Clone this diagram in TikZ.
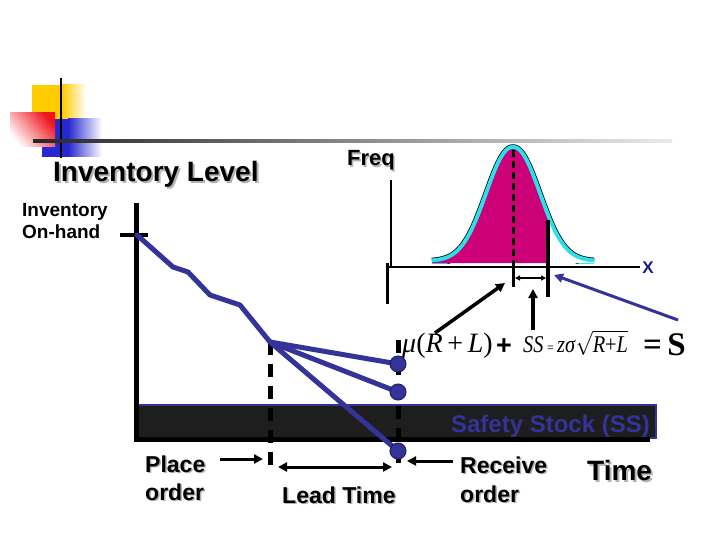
\RequirePackage{fix-cm}
\documentclass[tikz,border=0pt]{standalone}
\usepackage{graphicx}
\usepackage{fontspec}
\setmainfont{Liberation Sans}
\newfontfamily\tms{Liberation Serif}
\usetikzlibrary{arrows.meta}
\definecolor{lblue}{RGB}{51,51,153}
\definecolor{magfill}{RGB}{204,0,119}
\definecolor{cyanedge}{RGB}{40,225,235}
\definecolor{bandfill}{RGB}{30,30,30}
\definecolor{decoyellow}{RGB}{255,204,0}
\definecolor{decored}{RGB}{240,20,30}
\definecolor{decoblue}{RGB}{40,40,210}
\definecolor{xnavy}{RGB}{30,30,130}
\newcommand\shadowed[2][1.5pt]{\makebox[0pt][l]{\kern#1\raisebox{-#1}{\color{black!30}#2}}#2}
\tikzset{
  lbl/.style={inner sep=0pt, anchor=base west},
  invline/.style={draw=lblue, line width=5pt, line join=round, line cap=round},
  dashv/.style={line width=5pt, dash pattern=on 13pt off 9pt},
  dotnode/.style={circle, fill=lblue, draw=black!40!lblue, line width=1pt, minimum size=16pt, inner sep=0pt},
  blkarrow/.style={line width=3pt, -{Triangle[length=9pt,width=9pt]}},
  dblarrow/.style={line width=3pt, {Triangle[length=9pt,width=9pt]}-{Triangle[length=9pt,width=9pt]}},
}
\newcommand\bellf{263-114*exp(-((\x-513)^2)/1250)}
\begin{document}
\begin{tikzpicture}[x=1pt,y=-1pt]
\useasboundingbox[fill=white] (0,0) rectangle (720,540);

% ---- decoration top-left
\fill[decoyellow] (32,85) rectangle (62,122);
\shade[left color=decoyellow, right color=white] (62,85) rectangle (86,122);
\fill[decoblue] (42,119) rectangle (68,157);
\shade[left color=decoblue, right color=white] (68,119) rectangle (102,157);
\shade[top color=decored, bottom color=white, shading angle=-50] (10,113) rectangle (55,147);
\draw[line width=2pt] (61,78) -- (61,158);
\shade[left color=black!85, right color=black!8] (33,139.5) rectangle (672,142.5);

% ---- titles
\node[lbl, font=\fontsize{28}{32}\selectfont\bfseries] (lvl) at (53,182) {\shadowed[2pt]{Inventory Level}};
\node[lbl, font=\fontsize{22}{25}\selectfont\bfseries] (freq) at (347,166) {\shadowed{Freq}};
\node[lbl, font=\fontsize{19}{22}\selectfont\bfseries] (inv1) at (22,217) {Inventory};
\node[lbl, font=\fontsize{19}{22}\selectfont\bfseries] (inv2) at (22,239) {On-hand};

% ---- bell curve
\begin{scope}
\clip (420,100) rectangle (610,263.5);
\draw[black, line width=9.5pt] plot[domain=432:594, samples=120] (\x,{\bellf});
\draw[cyanedge, line width=8pt] plot[domain=432:594, samples=120] (\x,{\bellf});
\end{scope}
\fill[magfill] (432,263) -- plot[domain=432:548, samples=90] (\x,{\bellf}) -- (548,263) -- cycle;
\fill[white] (548,263) -- plot[domain=548:594, samples=40] (\x,{\bellf}) -- (594,263) -- cycle;
\draw[line width=3pt, dash pattern=on 7pt off 4pt] (513,150) -- (513,263);
\draw[line width=3pt] (513,263) -- (513,287);
\draw[line width=3.5pt] (548,220) -- (548,297);
\coordinate (mA) at (515,278);
\coordinate (mB) at (546,278);
\draw[line width=1.5pt, {Triangle[length=5pt,width=5pt]}-{Triangle[length=5pt,width=5pt]}] (mA) -- (mB);

% freq axes
\draw[line width=1.2pt] (391,180) -- (391,267);
\draw[line width=1.5pt] (387,267) -- (640,267);
\draw[line width=3pt] (387,263) -- (387,304);
\node[inner sep=0pt, font=\fontsize{17}{20}\selectfont\bfseries, text=xnavy] (xl) at (648,268) {X};

% ---- formula
\node[lbl, font=\fontsize{28}{30}\selectfont\tms] (f1) at (402,352) {\textit{μ}(\textit{R}\,+\,\textit{L})};
\node[lbl, font=\fontsize{27}{30}\selectfont\bfseries] (f2) at (496,354) {+};
\node[lbl, font=\fontsize{24}{26}\selectfont\tms] (f3) at (523,352) {\scalebox{0.85}[1]{\textit{SS}\,{\fontsize{14}{16}\selectfont =}\,\textit{zσ}$\sqrt{\mbox{\fontsize{24}{26}\selectfont\tms\textit{R}+\textit{L}}}$}};
\node[lbl, font=\fontsize{33}{36}\selectfont\tms\bfseries] (f4) at (643,355) {=\,S};

% arrows to bell
\coordinate (a1s) at (435,333);
\coordinate (a1e) at (505,283);
\draw[line width=3.5pt, -{Triangle[length=9pt,width=9pt]}] (a1s) -- (a1e);
\coordinate (a2s) at (533,330);
\coordinate (a2e) at (533,289);
\draw[line width=3.5pt, -{Triangle[length=9pt,width=9pt]}] (a2s) -- (a2e);
\coordinate (a3s) at (678,320);
\coordinate (a3e) at (554,275);
\draw[line width=3pt, draw=lblue, -{Triangle[length=9pt,width=9pt]}] (a3s) -- (a3e);

% ---- main graph
\filldraw[fill=bandfill, draw=lblue, line width=1.5pt] (138,405) rectangle (656,438);
\node[inner sep=0pt, anchor=base east, font=\fontsize{24}{26}\selectfont\bfseries, text=lblue] (ss) at (650,432) {Safety Stock (SS)};
\draw[line width=5pt] (136,203) -- (136,441);
\draw[line width=5pt] (134,439) -- (650,439);
\draw[line width=4pt] (120,235) -- (148,235);

\draw[dashv] (270,342) -- (270,466);
\draw[dashv] (398,340) -- (398,470);

\coordinate (p0) at (137,235);
\coordinate (p1) at (173,267);
\coordinate (p2) at (188,272);
\coordinate (p3) at (210,295);
\coordinate (p4) at (240,305);
\coordinate (pm) at (270,342);
\coordinate (q1) at (398,364);
\coordinate (q2) at (398,392);
\coordinate (q3) at (398,451);
\draw[invline] (p0) -- (p1) -- (p2) -- (p3) -- (p4) -- (pm);
\draw[invline] (pm) -- (q1);
\draw[invline] (pm) -- (q2);
\draw[invline] (pm) -- (q3);
\node[dotnode] (d1) at (q1) {};
\node[dotnode] (d2) at (q2) {};
\node[dotnode] (d3) at (q3) {};

% bottom arrows
\coordinate (po1) at (220,459);
\coordinate (po2) at (263,459);
\draw[blkarrow] (po1) -- (po2);
\coordinate (lt1) at (278,467);
\coordinate (lt2) at (392,467);
\draw[dblarrow] (lt1) -- (lt2);
\coordinate (ro1) at (453,461);
\coordinate (ro2) at (407,461);
\draw[blkarrow] (ro1) -- (ro2);

% bottom labels
\node[lbl, font=\fontsize{23}{26}\selectfont\bfseries] (pl1) at (145,472) {\shadowed{Place}};
\node[lbl, font=\fontsize{23}{26}\selectfont\bfseries] (pl2) at (145,500) {\shadowed{order}};
\node[lbl, font=\fontsize{23}{25}\selectfont\bfseries] (lt) at (282,503) {\shadowed{Lead Time}};
\node[lbl, font=\fontsize{23}{26}\selectfont\bfseries] (rc1) at (460,473) {\shadowed{Receive}};
\node[lbl, font=\fontsize{23}{26}\selectfont\bfseries] (rc2) at (460,502) {\shadowed{order}};
\node[lbl, font=\fontsize{28}{32}\selectfont\bfseries] (tm) at (587,480) {\shadowed[2pt]{Time}};
\end{tikzpicture}
\end{document}
